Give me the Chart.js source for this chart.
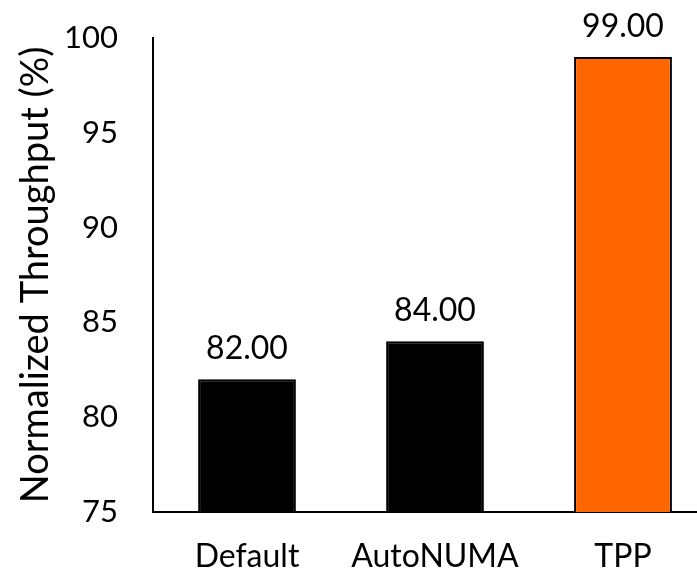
<!DOCTYPE html>
<html>
<head>
<meta charset="utf-8">
<script src="https://cdn.jsdelivr.net/npm/chart.js@4"></script>
<style>
  html, body { margin: 0; padding: 0; background: #fff; overflow: hidden; }
  #wrap { width: 697px; height: 574px; overflow: hidden; }
</style>
</head>
<body>
<div id="wrap">
  <canvas id="throughput" width="717" height="574"></canvas>
</div>
<script>
const categories = ["Default", "AutoNUMA", "TPP"];
const throughput = [82, 84, 99];
const barColors = ["#000000", "#000000", "#ff6600"];
const yTicks = [75, 80, 85, 90, 95, 100];

const FONT = "Lato, 'Open Sans', sans-serif";

// write the value above each bar
const valueLabels = {
  id: "valueLabels",
  afterDatasetsDraw(chart) {
    const ctx = chart.ctx;
    const meta = chart.getDatasetMeta(0);
    ctx.save();
    ctx.font = "32px " + FONT;
    ctx.fillStyle = "#000";
    ctx.textAlign = "center";
    ctx.textBaseline = "alphabetic";
    meta.data.forEach((bar, i) => {
      ctx.fillText(throughput[i].toFixed(2), bar.x, bar.y - 20);
    });
    ctx.restore();
  }
};

new Chart(document.getElementById("throughput"), {
  type: "bar",
  data: {
    labels: categories,
    datasets: [{
      data: throughput,
      backgroundColor: barColors,
      borderColor: "#000",
      borderWidth: 2,
      categoryPercentage: 1,
      barPercentage: 0.52
    }]
  },
  options: {
    responsive: false,
    animation: false,
    layout: { padding: { top: 38, right: 0, left: 0, bottom: 0 } },
    plugins: {
      legend: { display: false },
      tooltip: { enabled: false }
    },
    scales: {
      x: {
        grid: { display: false, drawTicks: false },
        border: { color: "#000", width: 2 },
        ticks: { color: "#000", padding: 25, font: { family: FONT, size: 32 } },
        afterFit(scale) { scale.height = 62; }
      },
      y: {
        min: 75,
        max: 100,
        afterBuildTicks(scale) { scale.ticks = yTicks.map(v => ({ value: v })); },
        grid: { display: false, drawTicks: false },
        border: { color: "#000", width: 2 },
        ticks: { color: "#000", padding: 35, font: { family: FONT, size: 31 } },
        title: {
          display: true,
          text: "Normalized Throughput (%)",
          color: "#000",
          font: { family: FONT, size: 38 },
          padding: { top: 13, bottom: 0 }
        },
        afterFit(scale) {
          scale.width = 153;
          // keep the top of the axis at the layout padding
          scale.paddingTop = 0;
          scale.paddingBottom = 0;
        }
      }
    }
  },
  plugins: [valueLabels]
});
</script>
</body>
</html>
